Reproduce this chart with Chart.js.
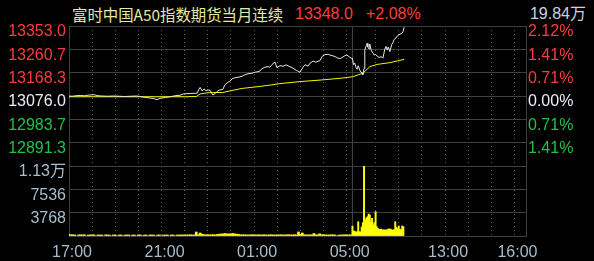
<!DOCTYPE html>
<html><head><meta charset="utf-8">
<script src="https://cdn.jsdelivr.net/npm/chart.js@4"></script>
<style>
html,body{margin:0;padding:0;background:#000;width:594px;height:261px;overflow:hidden}
#wrap{position:relative;width:594px;height:261px;background:#000}
canvas{position:absolute;left:0;top:0}
.t{position:absolute;white-space:nowrap;font-family:"Liberation Sans","Noto Sans CJK SC",sans-serif;font-size:16px;line-height:16px}
</style></head><body>
<div id="wrap">
<div class="t" id="title" style="left:72px;top:6px;color:#e8e8a4;font-family:'Noto Sans CJK SC',sans-serif;font-size:15.4px"></div>
<div class="t" id="last" style="left:295px;top:6px;color:#ff3b3b"></div>
<div class="t" id="chg" style="left:366px;top:6px;color:#ff3b3b"></div>
<div class="t" id="tot" style="right:8px;top:6px;color:#c8d4e0"></div>
<div style="position:absolute;left:0;top:0;width:594px;height:170px"><canvas id="pc" width="594" height="170"></canvas></div>
<div style="position:absolute;left:0;top:160px;width:594px;height:101px"><canvas id="vc" width="594" height="101"></canvas></div>
</div>
<script>
// ---- header ----
const titleText = '富时中国A50指数期货当月连续';
const lastPrice = '13348.0';
const changePct = '+2.08%';
const totalVolume = '19.84万';

// ---- axes ----
const prevClose = 13076.0;
const priceTicks = [12799.0, 12891.3, 12983.7, 13076.0, 13168.3, 13260.7, 13353.0];
const volTicks = [0, 3768, 7536, 11304];
const timeLabels = ['17:00', '21:00', '01:00', '05:00', '13:00', '16:00'];

// ---- price line (white) ----
const priceTimes = ['17:00','17:08','17:18','17:29','17:40','17:54','18:05','18:15','18:25','18:40','18:55','19:10','19:25','19:40','19:55','20:05','20:15','20:30','20:40','20:48','20:56','21:10','21:22','21:35','21:48','21:56','22:14','22:32','22:36','22:40','22:45','22:50','22:55','23:00','23:06','23:13','23:19','23:26','23:31','23:39','23:44','23:52','23:57','00:03','00:10','00:18','00:29','00:36','00:44','00:54','01:02','01:10','01:15','01:20','01:28','01:36','01:41','01:46','01:52','01:54','01:59','02:07','02:15','02:23','02:33','02:41','02:49','02:54','02:59','03:07','03:12','03:20','03:25','03:33','03:40','03:51','03:56','04:04','04:12','04:17','04:22','04:30','04:37','04:43','04:50','04:56','05:01','05:09','05:15','09:00','09:03','09:06','09:09','09:12','09:15','09:19','09:22','09:25','09:27','09:30','09:32','09:35','09:38','09:40','09:43','09:45','09:48','09:51','09:54','09:56','10:00','10:04','10:09','10:14','10:19','10:24','10:27','10:30','10:33','10:37','10:42','10:45','10:48','10:53','10:58','11:03','11:08','11:11','11:14'];
const prices = [13076,13075,13077,13078,13077,13080,13081,13077,13076,13075,13076,13075,13074,13075,13076,13074,13071,13068,13066,13061,13067,13070,13073,13077,13079,13084,13086,13087,13100,13110,13096,13104,13097,13100,13098,13080,13086,13096,13100,13102,13120,13130,13134,13144,13148,13150,13154,13160,13164,13166,13170,13172,13175,13184,13190,13192,13190,13200,13208,13210,13188,13196,13194,13199,13192,13186,13178,13174,13170,13190,13200,13194,13206,13214,13210,13216,13232,13240,13241,13238,13236,13232,13226,13224,13230,13236,13238,13228,13224,13222,13200,13206,13190,13182,13196,13178,13170,13168,13160,13185,13258,13272,13284,13270,13262,13282,13260,13250,13244,13238,13240,13234,13228,13232,13226,13262,13272,13258,13270,13252,13280,13288,13300,13306,13316,13320,13324,13330,13348];

// ---- average price line (yellow) ----
const avgTimes = ['17:00','20:00','22:00','22:30','22:40','23:00','23:39','00:00','00:29','01:10','01:46','02:07','02:33','02:59','03:51','04:43','05:15','09:00','09:27','09:45','10:04','10:37','11:14'];
const avgPrices = [13073,13073,13073,13074,13084,13089,13090,13097,13106,13113,13120,13125,13129,13133,13139,13146,13152,13152,13166,13192,13201,13208,13221];

// ---- volume: night session every 5 min from 17:00, day session every 3 min from 09:00 ----
const volNight = [
  250,180,200,160,0,170,190,160,200,0,150,170,
  160,180,0,170,150,160,0,180,160,150,0,170,
  150,0,160,170,0,150,160,170,0,160,150,0,
  160,170,0,150,160,0,170,160,150,0,160,170,
  0,160,150,170,0,160,170,0,150,160,170,160,
  170,160,180,200,160,180,650,200,480,300,200,180,
  200,180,200,220,180,250,300,320,350,400,320,350,
  350,400,320,300,250,200,180,200,160,170,180,200,
  180,160,200,180,160,200,170,160,180,200,160,170,
  160,180,200,160,170,180,200,160,180,200,170,650,
  250,480,200,180,160,200,180,400,200,180,350,200,
  200,180,160,170,180,200,160,0,150,160,170,200,
  160,170,200];
const volDay = [1600,800,780,540,700,2300,700,650,1450,2150,11300,2580,2900,3120,3550,3400,2310,2860,1780,2150,3930,1500,1200,1100,1050,1100,970,1000,970,950,1000,1130,1100,1130,970,960,1000,2310,1400,1200,1615,1100,970,1615,1500];

// ---- helpers ----
document.getElementById('title').textContent = titleText;
document.getElementById('last').textContent = lastPrice;
document.getElementById('chg').textContent = changePct;
document.getElementById('tot').textContent = totalVolume;

function toMin(t) {
  const [h, m] = t.split(':').map(Number);
  if (h >= 17) return (h - 17) * 60 + m;
  if (h <= 5) return (h + 7) * 60 + m;
  return 735 + (h - 9) * 60 + m;
}
const X_MAX = 1185, BREAK = 735;
const gridMins = [];
for (let i = 0; i <= 12; i++) gridMins.push(i * 60);
gridMins.push(BREAK);
for (let i = 1; i <= 7; i++) gridMins.push(BREAK + i * 60);
gridMins.push(X_MAX);
const labelMins = timeLabels.map(toMin);

const FONT = {family: "'Liberation Sans', 'Noto Sans CJK SC', sans-serif", size: 16};
const RED = '#ff3b3b', GREEN = '#22c04a', WHITE = '#e8eef6', AXIS = '#a8bccc';
const GRID = '#404040', DOT = '#5a5a5a';

const tv = c => (c && c.tick) ? c.tick.value : -1;
const solid = v => v === 0 || v === BREAK || v === X_MAX;
const noPad = s => { s.paddingTop = 0; s.paddingBottom = 0; s.paddingLeft = 0; s.paddingRight = 0; };
function fitW(w) { return s => { s.width = w; noPad(s); }; }

function xGrid(showLabels) {
  return {
    type: 'linear', min: 0, max: X_MAX, offset: false,
    afterBuildTicks: s => { s.ticks = gridMins.map(v => ({value: v})); },
    afterFit: s => { s.height = showLabels ? 25 : 0; noPad(s); },
    grid: {
      drawTicks: false, offset: false,
      color: c => solid(tv(c)) ? GRID : DOT,
      lineWidth: 1
    },
    border: {display: false, dash: c => solid(tv(c)) ? [] : [1, 3]},
    ticks: {
      display: showLabels, autoSkip: false, maxRotation: 0, minRotation: 0,
      padding: 7, labelOffset: 3, font: FONT, color: AXIS,
      callback: v => { const i = labelMins.indexOf(v); return i >= 0 ? timeLabels[i] : ''; }
    }
  };
}

const priceColor = v => Math.abs(v - prevClose) < 0.01 ? WHITE : (v > prevClose ? RED : GREEN);

new Chart(document.getElementById('pc'), {
  type: 'line',
  data: {
    datasets: [
      {data: priceTimes.map((t, i) => ({x: toMin(t), y: prices[i]})), borderColor: '#e6e6e6', borderWidth: 1, pointRadius: 0, tension: 0, order: 0},
      {data: avgTimes.map((t, i) => ({x: toMin(t), y: avgPrices[i]})), borderColor: '#f5f500', borderWidth: 1, pointRadius: 0, tension: 0, order: 1}
    ]
  },
  options: {
    responsive: false, animation: false, devicePixelRatio: 1,
    layout: {padding: {top: 26, bottom: 4, left: 0, right: 0}},
    plugins: {legend: {display: false}, tooltip: {enabled: false}},
    scales: {
      x: xGrid(false),
      y: {
        type: 'linear', position: 'left', min: priceTicks[0], max: priceTicks[priceTicks.length - 1],
        afterBuildTicks: s => { s.ticks = priceTicks.map(v => ({value: v})); },
        afterFit: fitW(69),
        grid: {drawTicks: false, color: GRID},
        border: {color: GRID},
        ticks: {
          autoSkip: false, padding: 3, labelOffset: 6, font: FONT, color: c => priceColor(tv(c)),
          callback: v => v === priceTicks[0] ? '' : v.toFixed(1)
        }
      },
      y2: {
        type: 'linear', position: 'right', min: priceTicks[0], max: priceTicks[priceTicks.length - 1],
        afterBuildTicks: s => { s.ticks = priceTicks.map(v => ({value: v})); },
        afterFit: fitW(68),
        grid: {display: false, drawTicks: false},
        border: {color: GRID},
        ticks: {
          autoSkip: false, padding: 2, labelOffset: 6, font: FONT, color: c => priceColor(tv(c)),
          callback: v => v === priceTicks[0] ? '' : Math.abs((v - prevClose) / prevClose * 100).toFixed(2) + '%'
        }
      }
    }
  }
});

const nightPts = volNight.map((v, i) => ({x: i * 5, y: v}));
const dayPts = volDay.map((v, i) => ({x: BREAK + i * 3, y: v}));

new Chart(document.getElementById('vc'), {
  type: 'bar',
  data: {
    datasets: [
      {data: nightPts, backgroundColor: '#ffff00', barThickness: 2, grouped: false},
      {data: dayPts, backgroundColor: '#ffff00', barThickness: 1.3, grouped: false}
    ]
  },
  options: {
    responsive: false, animation: false, devicePixelRatio: 1,
    layout: {padding: {top: 6, bottom: 0, left: 0, right: 0}},
    plugins: {legend: {display: false}, tooltip: {enabled: false}},
    scales: {
      x: xGrid(true),
      y: {
        type: 'linear', position: 'left', min: 0, max: volTicks[volTicks.length - 1],
        afterBuildTicks: s => { s.ticks = volTicks.map(v => ({value: v})); },
        afterFit: fitW(69),
        grid: {drawTicks: false, color: GRID},
        border: {color: GRID},
        ticks: {
          autoSkip: false, padding: 3, labelOffset: 6, font: FONT, color: AXIS,
          callback: v => v === 0 ? '' : (v >= 10000 ? (v / 10000).toFixed(2) + '万' : String(v))
        }
      },
      y2: {
        type: 'linear', position: 'right', min: 0, max: volTicks[volTicks.length - 1],
        afterFit: fitW(68),
        grid: {display: false, drawTicks: false},
        border: {color: GRID},
        ticks: {display: false}
      }
    }
  }
});
</script>
</body></html>
